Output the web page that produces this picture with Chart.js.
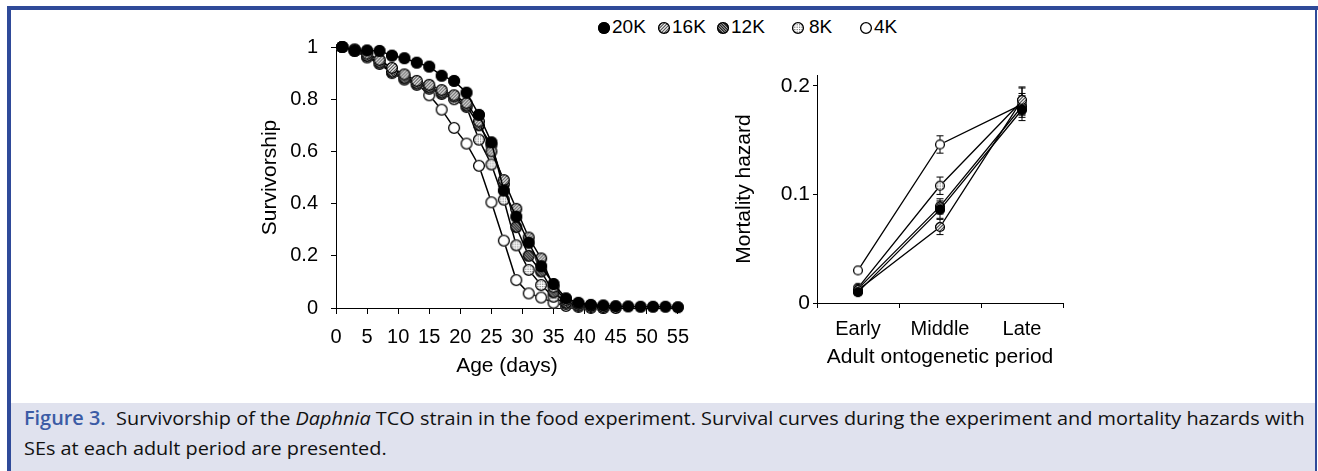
<!DOCTYPE html>
<html>
<head>
<meta charset="utf-8">
<script src="https://cdn.jsdelivr.net/npm/chart.js@4.4.1/dist/chart.umd.min.js"></script>
<style>
  body { margin: 0; width: 1318px; height: 471px; position: relative; background: #fff; overflow: hidden; font-family: "Liberation Sans", Arial, sans-serif; }
  .frame { position: absolute; background: #2f4a99; }
  #caption { position: absolute; left: 11px; top: 403px; width: 1304px; height: 68px; background: #e0e2ee; }
  .capline { position: absolute; left: 24px; font-family: "Open Sans", sans-serif; font-size: 19px; line-height: 24px; color: #111; white-space: nowrap; transform-origin: 0 0; }
  .fig { color: #3b5ba5; font-weight: 600; }
  .leg { position: absolute; top: 16px; font-size: 19px; line-height: 22px; color: #000; }
  .legmark { position: absolute; top: 21px; }
  .chartbox { position: absolute; }
</style>
</head>
<body>
<div class="frame" style="left:7px;top:6px;width:1311px;height:4px"></div>
<div class="frame" style="left:7px;top:6px;width:4px;height:465px"></div>
<div class="frame" style="left:1315px;top:6px;width:2px;height:465px"></div>
<div id="caption"></div>
<div class="capline" id="cap1" style="top:406px"><span class="fig">Figure 3.</span>&nbsp; Survivorship of the <i>Daphnia</i> TCO strain in the food experiment. Survival curves during the experiment and mortality hazards with</div>
<div class="capline" id="cap2" style="top:436px">SEs at each adult period are presented.</div>

<div id="legend"></div>

<div class="chartbox" style="left:250px;top:30px"><canvas id="surv" width="450" height="360"></canvas></div>
<div class="chartbox" style="left:720px;top:60px"><canvas id="hazard" width="360" height="320"></canvas></div>

<script>
// survivorship, read every 2 days
const days = [1, 3, 5, 7, 9, 11, 13, 15, 17, 19, 21, 23, 25, 27, 29, 31, 33, 35, 37, 39, 41, 43, 45, 47, 49, 51, 53, 55];
const surv20K = [1.0, 0.987, 0.987, 0.985, 0.967, 0.957, 0.94, 0.925, 0.89, 0.87, 0.825, 0.74, 0.635, 0.45, 0.35, 0.25, 0.16, 0.092, 0.037, 0.02, 0.012, 0.01, 0.007, 0.006, 0.005, 0.005, 0.005, 0.003];
const surv16K = [1.0, 0.99, 0.975, 0.95, 0.92, 0.895, 0.87, 0.855, 0.835, 0.815, 0.785, 0.715, 0.6, 0.49, 0.38, 0.27, 0.19, 0.08, 0.03, 0.015, 0.008, 0.004, 0];
const surv12K = [1.0, 0.985, 0.965, 0.94, 0.905, 0.88, 0.86, 0.845, 0.825, 0.81, 0.775, 0.7, 0.625, 0.475, 0.31, 0.2, 0.14, 0.06, 0.02, 0.01, 0.005, 0];
const surv8K = [1.0, 0.985, 0.96, 0.935, 0.9, 0.875, 0.855, 0.84, 0.82, 0.8, 0.77, 0.645, 0.55, 0.415, 0.24, 0.146, 0.088, 0.043, 0.015, 0.008, 0.004, 0];
const surv4K = [1.0, 0.99, 0.97, 0.95, 0.915, 0.89, 0.86, 0.815, 0.76, 0.69, 0.63, 0.545, 0.405, 0.258, 0.107, 0.056, 0.04, 0.02, 0.008, 0.004, 0];

// mortality hazard by adult period, with SE
const periods = ["Early", "Middle", "Late"];
const haz20K = [0.010, 0.086, 0.178];
const haz16K = [0.012, 0.070, 0.187];
const haz12K = [0.013, 0.089, 0.181];
const haz8K = [0.014, 0.108, 0.186];
const haz4K = [0.030, 0.146, 0.183];
const se20K = [0.002, 0.008, 0.010];
const se16K = [0.002, 0.007, 0.012];
const se12K = [0.002, 0.007, 0.010];
const se8K = [0.002, 0.008, 0.012];
const se4K = [0.002, 0.008, 0.010];
const hazardTicks = [0, 0.1, 0.2];

const seriesNames = ["20K", "16K", "12K", "8K", "4K"];
const markerKinds = ["solid", "fwd", "back", "dots", "open"];

function marker(kind, d) {
  const s = d + 2;
  const c = document.createElement("canvas");
  c.width = s; c.height = s;
  const g = c.getContext("2d");
  const m = s / 2, r = d / 2;
  g.beginPath(); g.arc(m, m, r, 0, Math.PI * 2);
  g.fillStyle = kind === "solid" ? "#000" : "#fff";
  g.fill();
  g.save(); g.clip();
  if (kind === "fwd" || kind === "back") {
    g.strokeStyle = kind === "fwd" ? "#555" : "#222";
    g.lineWidth = kind === "fwd" ? 1.2 : 1.5;
    const step = kind === "fwd" ? 3.2 : 2.8;
    for (let k = -s; k < 2 * s; k += step) {
      g.beginPath();
      if (kind === "fwd") { g.moveTo(k, s); g.lineTo(k + s, 0); }
      else { g.moveTo(k, 0); g.lineTo(k + s, s); }
      g.stroke();
    }
  } else if (kind === "dots") {
    g.fillStyle = "#777";
    for (let yy = 0.8; yy < s; yy += 2.4)
      for (let xx = 0.8; xx < s; xx += 2.4) g.fillRect(xx, yy, 1.2, 1.2);
  }
  g.restore();
  g.beginPath(); g.arc(m, m, r - 0.6, 0, Math.PI * 2);
  g.lineWidth = 1.3; g.strokeStyle = "#000"; g.stroke();
  return c;
}

// legend
const legendX = [597, 657, 716, 791, 859];
const legend = document.getElementById("legend");
seriesNames.forEach((name, i) => {
  const mk = marker(markerKinds[i], 12);
  mk.className = "legmark";
  mk.style.left = legendX[i] + "px";
  legend.appendChild(mk);
  const t = document.createElement("span");
  t.className = "leg";
  t.style.left = (legendX[i] + (i === 3 ? 18 : 15)) + "px";
  t.textContent = name;
  legend.appendChild(t);
});

const font = "'Liberation Sans', Arial, sans-serif";
Chart.defaults.font.family = font;
Chart.defaults.color = "#000";

const survValues = [surv20K, surv16K, surv12K, surv8K, surv4K];
new Chart(document.getElementById("surv"), {
  type: "line",
  data: {
    datasets: survValues.map((vals, i) => ({
      label: seriesNames[i],
      data: vals.map((v, j) => ({ x: days[j], y: v })),
      borderColor: "#000",
      borderWidth: 1.5,
      tension: 0,
      pointStyle: marker(markerKinds[i], 12),
      pointRadius: 6,
      clip: false,
    })),
  },
  options: {
    responsive: false,
    animation: false,
    layout: { padding: { top: 17, right: 21, left: 0, bottom: 0 } },
    plugins: { legend: { display: false }, tooltip: { enabled: false } },
    scales: {
      x: {
        type: "linear", min: 0, max: 55,
        ticks: { stepSize: 5, font: { size: 20 }, padding: 11, maxRotation: 0, autoSkip: false },
        grid: { drawOnChartArea: false, tickLength: 6, color: "#000" },
        border: { color: "#000", width: 1 },
        title: { display: true, text: "Age (days)", font: { size: 21 }, padding: { top: 0, bottom: 11 } },
        afterFit: (s) => { s.height = 82; },
      },
      y: {
        min: 0, max: 1,
        ticks: { stepSize: 0.2, font: { size: 20 }, padding: 13, callback: (v) => String(+v.toFixed(1)) },
        grid: { drawOnChartArea: false, tickLength: 5, color: "#000" },
        border: { color: "#000", width: 1 },
        title: { display: true, text: "Survivorship", font: { size: 21 }, padding: { top: 8, bottom: 0 } },
        afterFit: (s) => { s.width = 86; s.paddingTop = 0; s.paddingBottom = 0; },
      },
    },
  },
});

const errorBars = {
  id: "errorBars",
  beforeDatasetsDraw(chart) {
    const ctx = chart.ctx, xs = chart.scales.x, ys = chart.scales.y;
    ctx.save();
    ctx.strokeStyle = "#000";
    ctx.lineWidth = 1;
    chart.data.datasets.forEach((ds) => {
      ds.data.forEach((v, i) => {
        const x = xs.getPixelForValue(i);
        const top = ys.getPixelForValue(v + ds.se[i]);
        const bot = ys.getPixelForValue(v - ds.se[i]);
        ctx.beginPath();
        ctx.moveTo(x, top); ctx.lineTo(x, bot);
        ctx.moveTo(x - 3.5, top); ctx.lineTo(x + 3.5, top);
        ctx.moveTo(x - 3.5, bot); ctx.lineTo(x + 3.5, bot);
        ctx.stroke();
      });
    });
    ctx.restore();
  },
};

const hazValues = [haz20K, haz16K, haz12K, haz8K, haz4K];
const hazSE = [se20K, se16K, se12K, se8K, se4K];
new Chart(document.getElementById("hazard"), {
  type: "line",
  data: {
    labels: periods,
    datasets: hazValues.map((vals, i) => ({
      label: seriesNames[i],
      data: vals,
      se: hazSE[i],
      borderColor: "#000",
      borderWidth: 1.3,
      tension: 0,
      pointStyle: marker(markerKinds[i], 10),
      pointRadius: 5,
      clip: false,
    })),
  },
  options: {
    responsive: false,
    animation: false,
    layout: { padding: { top: 15, right: 17, left: 0, bottom: 0 } },
    plugins: { legend: { display: false }, tooltip: { enabled: false } },
    scales: {
      x: {
        type: "category", offset: true,
        ticks: { font: { size: 20 }, padding: 9, maxRotation: 0 },
        grid: { offset: true, drawOnChartArea: false, tickLength: 5, color: "#000" },
        border: { color: "#000", width: 1 },
        title: { display: true, text: "Adult ontogenetic period", font: { size: 21 }, padding: { top: 0, bottom: 10 } },
        afterFit: (s) => { s.height = 77; },
      },
      y: {
        min: 0, max: 0.21,
        ticks: { font: { size: 21 }, padding: 3, callback: (v) => String(+v.toFixed(1)) },
        afterBuildTicks: (s) => { s.ticks = hazardTicks.map((v) => ({ value: v })); },
        grid: { drawOnChartArea: false, tickLength: 4, color: "#000" },
        border: { color: "#000", width: 1 },
        title: { display: true, text: "Mortality hazard", font: { size: 21 }, padding: { top: 12, bottom: 0 } },
        afterFit: (s) => { s.width = 97; s.paddingTop = 0; s.paddingBottom = 0; },
      },
    },
  },
  plugins: [errorBars],
});

// fit the caption lines to the width they take in the figure
const cap1 = document.getElementById("cap1");
const cap2 = document.getElementById("cap2");
const k = 1281 / cap1.offsetWidth;
cap1.style.transform = "scaleX(" + k + ")";
cap2.style.transform = "scaleX(" + k + ")";
</script>
</body>
</html>
